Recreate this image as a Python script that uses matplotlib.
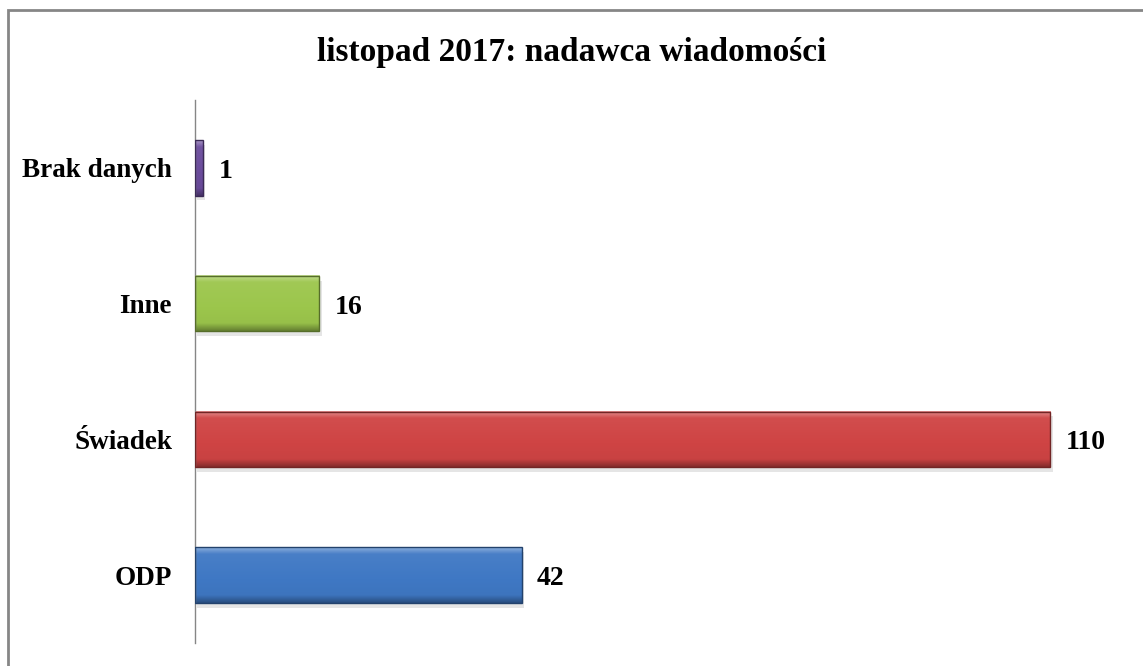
#!/usr/bin/env python3
"""Horizontal bar chart: listopad 2017, nadawca wiadomosci."""
import matplotlib
matplotlib.use("Agg")
import matplotlib.pyplot as plt
import matplotlib.colors as mcolors
from matplotlib.patches import Rectangle
import numpy as np

categories = ["ODP", "Świadek", "Inne", "Brak danych"]
values = [42, 110, 16, 1]
bar_colors = ["#3f78c4", "#cf4444", "#9cc64c", "#6b4c9c"]
title = "listopad 2017: nadawca wiadomości"

plt.rcParams["font.family"] = ["Liberation Serif", "DejaVu Serif"]

W, H = 1143, 666
fig = plt.figure(figsize=(W / 100, H / 100), dpi=100)

# axes placed so the vertical axis sits at x=195px, y from 100 to 643px
ax = fig.add_axes([195 / W, (H - 643) / H, (1128 - 195) / W, 543 / H])

bar_h = 0.41


def shade(c, f):
    rgb = np.array(mcolors.to_rgb(c))
    if f > 0:
        return rgb + (1 - rgb) * f
    return rgb * (1 + f)


for i, (v, c) in enumerate(zip(values, bar_colors)):
    y0, y1 = i - bar_h / 2, i + bar_h / 2
    # soft shadow
    ax.add_patch(Rectangle((0.3, y0 - 0.035), v, bar_h, facecolor="#000000",
                           alpha=0.10, edgecolor="none", zorder=1))
    # vertical gradient to mimic the bevel
    n = 60
    t = np.linspace(0, 1, n)  # 0 = top, 1 = bottom
    grad = np.empty((n, 1, 3))
    for k, tt in enumerate(t):
        if tt < 0.12:
            f = 0.35 * (1 - tt / 0.12) + 0.05
        elif tt > 0.85:
            f = -0.35 * (tt - 0.85) / 0.15
        else:
            f = 0.05 - 0.08 * (tt - 0.12) / 0.73
        grad[k, 0] = np.clip(shade(c, f), 0, 1)
    ax.imshow(grad, extent=(0, v, y0, y1), origin="upper", aspect="auto",
              interpolation="bilinear", zorder=2)
    ax.add_patch(Rectangle((0, y0), v, bar_h, facecolor="none",
                           edgecolor=shade(c, -0.45), linewidth=1.0, zorder=3))
    ax.text(v + 2.0, i - 0.025, str(v), ha="left", va="center", fontsize=20,
            fontweight="bold", color="black", zorder=4)

ax.set_xlim(0, 120)
ax.set_ylim(-0.5, len(categories) - 0.5)
ax.set_yticks(range(len(categories)))
ax.set_yticklabels(categories, fontsize=19.5, fontweight="bold")
ax.tick_params(axis="y", length=0, pad=16.5)
ax.set_xticks([])
for s in ["top", "right", "bottom"]:
    ax.spines[s].set_visible(False)
ax.spines["left"].set_color("#868686")
ax.spines["left"].set_linewidth(1.0)

fig.text(572 / W, 1 - 52 / H, title, ha="center", va="center",
         fontsize=24, fontweight="bold")

# outer chart border (clipped by the image on the right and bottom)
fig.patches.append(Rectangle((8 / W, -0.1), 1.2, (H - 10) / H + 0.1,
                             transform=fig.transFigure, facecolor="none",
                             edgecolor="#868686", linewidth=2))

fig.savefig("out.png", dpi=100)
